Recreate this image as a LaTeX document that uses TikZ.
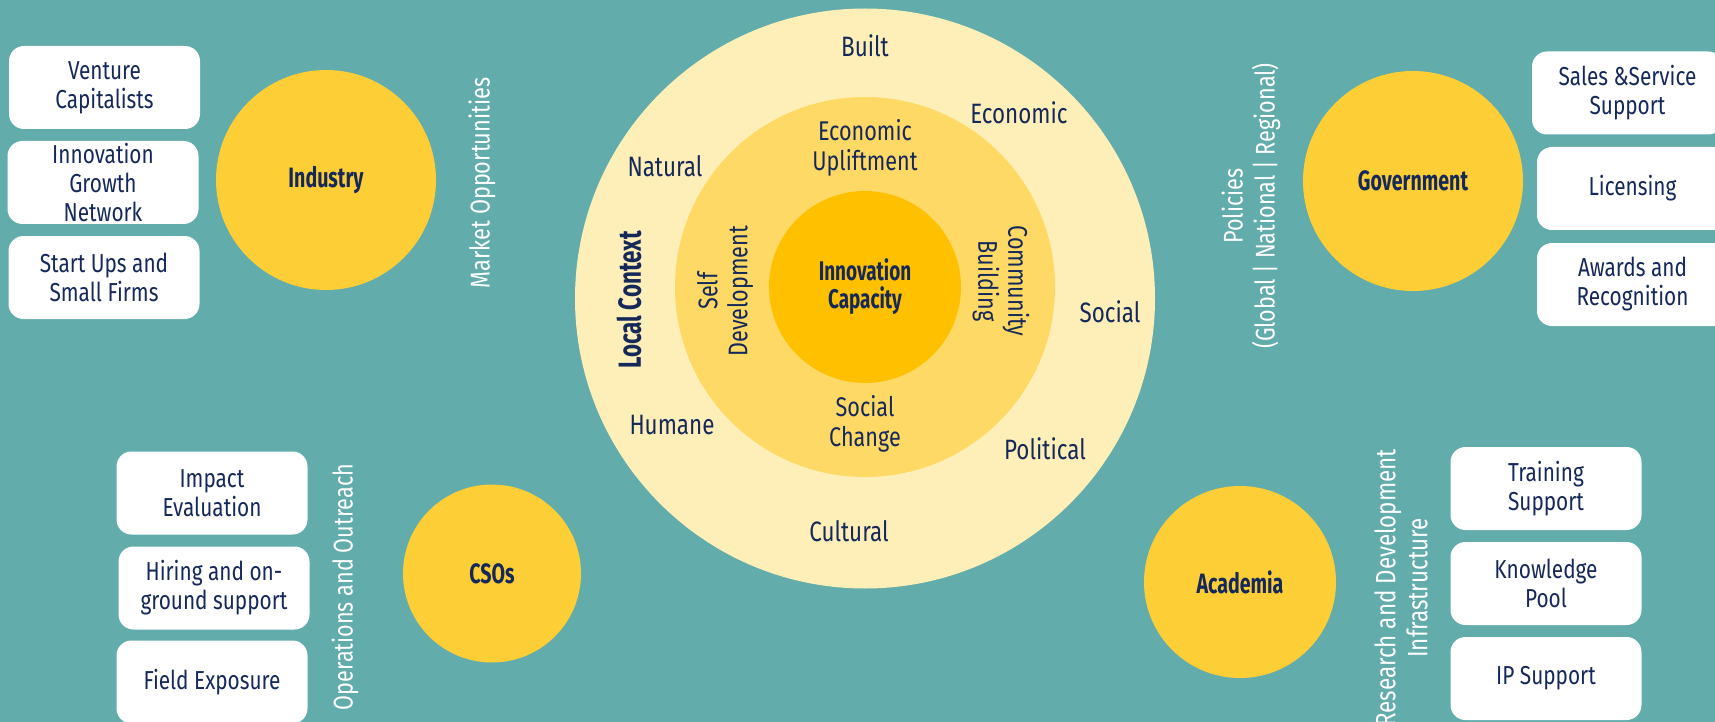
\documentclass[tikz,border=0pt]{standalone}
\usepackage{fontspec}
\setmainfont{Fira Sans}[FakeStretch=0.8, BoldFeatures={FakeStretch=0.7}]
\definecolor{bgc}{HTML}{62ACAB}
\definecolor{navy}{HTML}{15285A}
\definecolor{ringA}{HTML}{FEEEB8}
\definecolor{ringB}{HTML}{FFD966}
\definecolor{ringC}{HTML}{FFC000}
\definecolor{hubc}{HTML}{FECE36}
\begin{document}
\begin{tikzpicture}[x=0.5pt,y=-0.5pt,
  lbl/.style={text=navy, font=\fontsize{14}{15}\selectfont, align=center, inner sep=0pt},
  mlbl/.style={text=navy, font=\fontsize{13.5}{15}\selectfont, align=center, inner sep=0pt},
  wlbl/.style={text=white, font=\fontsize{13.5}{16}\selectfont, align=center, inner sep=0pt},
  box/.style={fill=white, rounded corners=7.5pt, minimum width=95.5pt, minimum height=41.5pt,
    text=navy, font=\fontsize{13}{14.5}\selectfont, align=center, inner sep=0pt},
  hub/.style={circle, fill=hubc, text=navy, font=\fontsize{14}{16}\selectfont\bfseries, inner sep=0pt},
  ring/.style={circle, inner sep=0pt}]
\useasboundingbox (0,0) rectangle (1715,722);
\clip (0,0) rectangle (1715,722);
\fill[bgc] (0,0) rectangle (1715,722);

% central rings
\node[ring, fill=ringA, minimum size=290pt] (outer) at (865,298.5) {};
\node[ring, fill=ringB, minimum size=190pt] (middle) at (865,287) {};
\node[ring, fill=ringC, minimum size=96pt, text=navy, align=center,
  font=\fontsize{13.5}{14}\selectfont\bfseries] (core) at (865,287) {Innovation\\Capacity};

% outer ring labels
\node[lbl] (built) at (865,46) {Built};
\node[lbl] (econ) at (1019,113) {Economic};
\node[lbl] (natural) at (665,166) {Natural};
\node[lbl] (social) at (1110,312) {Social};
\node[lbl] (humane) at (672,425) {Humane};
\node[lbl] (political) at (1045,449) {Political};
\node[lbl] (cultural) at (849,531) {Cultural};
\node[lbl, rotate=90, font=\fontsize{16}{17}\selectfont\bfseries] (local) at (629,300) {Local Context};

% middle ring labels
\node[mlbl] (uplift) at (865,148) {Economic\\Upliftment};
\node[mlbl] (change) at (865,424) {Social\\Change};
\node[mlbl, rotate=90] (selfdev) at (725,291) {Self\\Development};
\node[mlbl, rotate=-90] (community) at (1001,281) {Community\\Building};

% hubs
\node[hub, minimum size=110pt] (industry) at (326,180) {Industry};
\node[hub, minimum size=110pt] (gov) at (1413,181) {Government};
\node[hub, minimum size=89pt] (cso) at (492,573.5) {CSOs};
\node[hub, minimum size=96pt] (acad) at (1240,582) {Academia};

% side labels
\node[wlbl, rotate=90, font=\fontsize{13.6}{16}\selectfont] (market) at (482,183) {Market Opportunities};
\node[wlbl, rotate=90] (policies) at (1251,206) {Policies\\(Global | National | Regional)};
\node[wlbl, rotate=90] (ops) at (345,587) {Operations and Outreach};
\node[wlbl, rotate=90, font=\fontsize{14}{16}\selectfont] (rnd) at (1401,588) {Research and Development\\Infrastructure};

% boxes
\node[box] (vc) at (104.5,87.5) {Venture\\Capitalists};
\node[box] (ign) at (103,182.5) {Innovation\\Growth\\Network};
\node[box] (startups) at (104,277.5) {Start Ups and\\Small Firms};
\node[box] (sales) at (1627.5,93) {Sales \&Service\\Support};
\node[box] (lic) at (1632.5,188.5) {Licensing};
\node[box] (awards) at (1632.5,284.5) {Awards and\\Recognition};
\node[box] (impact) at (212,493) {Impact\\Evaluation};
\node[box] (hiring) at (214,588) {Hiring and on-\\ground support};
\node[box] (field) at (212,682) {Field Exposure};
\node[box] (training) at (1546,488.5) {Training\\Support};
\node[box] (knowledge) at (1546,583.5) {Knowledge\\Pool};
\node[box] (ip) at (1546,678.5) {IP Support};
\end{tikzpicture}
\end{document}
